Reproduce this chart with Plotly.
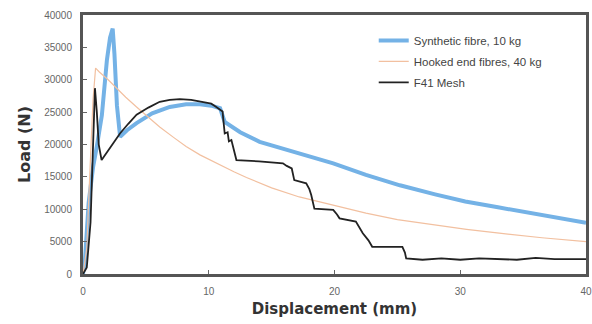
import plotly.graph_objects as go

# Synthetic fibre, 10 kg
syn_x = [0, 0.15, 0.45, 0.8, 1.1, 1.5, 1.9, 2.15, 2.36, 2.5, 2.7, 2.95, 3.5, 4.26, 5.5, 6.9, 8.2, 9.3, 10.2, 10.9, 11.27, 12.5, 14.05, 17.0, 19.9, 22.5, 25.2, 28.0, 30.4, 33.0, 35.7, 38.0, 40]
syn_y = [0, 2000, 11000, 16500, 19700, 24500, 33000, 36500, 37900, 34000, 26000, 21200, 22200, 23300, 24800, 25800, 26200, 26200, 26000, 25600, 23500, 21900, 20400, 18700, 17100, 15300, 13700, 12300, 11200, 10300, 9400, 8700, 7900]

# Hooked end fibres, 40 kg
hook_x = [0, 0.3, 0.55, 0.8, 1.0, 1.3, 2.0, 2.67, 3.4, 4.26, 5.2, 6.1, 7.2, 8.2, 9.3, 10.9, 12.0, 13.0, 15.0, 17.2, 20.0, 22.5, 25.0, 27.8, 30.5, 33.1, 36.5, 40]
hook_y = [0, 4000, 16000, 27000, 31800, 31200, 30000, 28700, 27300, 25800, 24200, 22700, 21100, 19700, 18400, 16800, 15800, 14900, 13300, 11900, 10600, 9400, 8400, 7600, 6900, 6300, 5600, 5000]

# F41 Mesh
mesh_x = [0, 0.3, 0.6, 0.8, 0.95, 1.1, 1.25, 1.48, 1.9, 2.4, 2.94, 3.6, 4.26, 5.2, 6.1, 6.9, 7.7, 8.6, 9.55, 10.2, 10.6, 11.1, 11.15, 11.27, 11.5, 11.6, 11.8, 12.0, 12.2, 14.0, 15.9, 16.2, 16.6, 16.8, 17.75, 18.0, 18.15, 18.4, 19.9, 20.2, 20.4, 21.7, 22.0, 22.25, 22.7, 23.0, 25.4, 25.6, 25.7, 27.0, 28.5, 30.0, 31.5, 33.0, 34.5, 36.0, 37.5, 40]
mesh_y = [0, 1000, 8000, 20000, 28700, 25000, 20000, 17600, 18800, 20300, 21700, 23200, 24600, 25700, 26600, 26900, 27000, 26900, 26600, 26300, 25800, 25100, 24000, 21700, 21900, 20500, 20700, 19000, 17600, 17400, 17100, 16700, 16300, 14500, 14000, 13100, 12200, 10100, 9900, 9200, 8600, 8100, 7200, 6300, 5200, 4200, 4200, 3300, 2400, 2200, 2400, 2200, 2400, 2300, 2200, 2500, 2300, 2300]

series_names = ["Synthetic fibre, 10 kg", "Hooked end fibres, 40 kg", "F41 Mesh"]

x_ticks = [0, 10, 20, 30, 40]
y_ticks = [0, 5000, 10000, 15000, 20000, 25000, 30000, 35000, 40000]

fig = go.Figure()
fig.add_trace(go.Scatter(x=syn_x, y=syn_y, mode="lines", name=series_names[0],
                         line=dict(color="#74b2e6", width=4), legendgroup="a"))
fig.add_trace(go.Scatter(x=hook_x, y=hook_y, mode="lines", name=series_names[1],
                         line=dict(color="#f2c0a0", width=1.2), legendgroup="b"))
fig.add_trace(go.Scatter(x=mesh_x, y=mesh_y, mode="lines", name=series_names[2],
                         line=dict(color="#222222", width=1.8), legendgroup="c"))

axis_common = dict(showline=True, linecolor="#555555", linewidth=3, mirror=True,
                   ticks="inside", ticklen=4, tickcolor="#666666", tickwidth=1,
                   showgrid=False, zeroline=False, automargin=False,
                   ticklabelstandoff=6,
                   tickfont=dict(family="Liberation Sans, Arial", size=10, color="#666666"))

fig.update_layout(
    width=592, height=324,
    margin=dict(l=83, r=6, t=15, b=50),
    paper_bgcolor="white", plot_bgcolor="white",
    showlegend=True,
    legend=dict(x=0.578, y=0.958, xanchor="left", yanchor="top",
                bgcolor="rgba(0,0,0,0)", borderwidth=0,
                font=dict(family="Liberation Sans, Arial", size=11.5, color="#444444"),
                tracegroupgap=2),
    xaxis=dict(range=[0, 40], tickvals=x_ticks, ticktext=[str(v) for v in x_ticks],
               title=dict(text="<b>Displacement (mm)</b>", standoff=8,
                          font=dict(family="DejaVu Sans", size=15, color="#333333")),
               **axis_common),
    yaxis=dict(range=[0, 40000], tickvals=y_ticks, ticktext=[str(v) for v in y_ticks],
               title=dict(text="<b>Load (N)</b>", standoff=10,
                          font=dict(family="DejaVu Sans", size=16, color="#333333")),
               **axis_common),
)

fig.write_html("out.html", config={"displayModeBar": False},
               post_script="document.body.style.margin='0';document.body.style.overflow='hidden';")
